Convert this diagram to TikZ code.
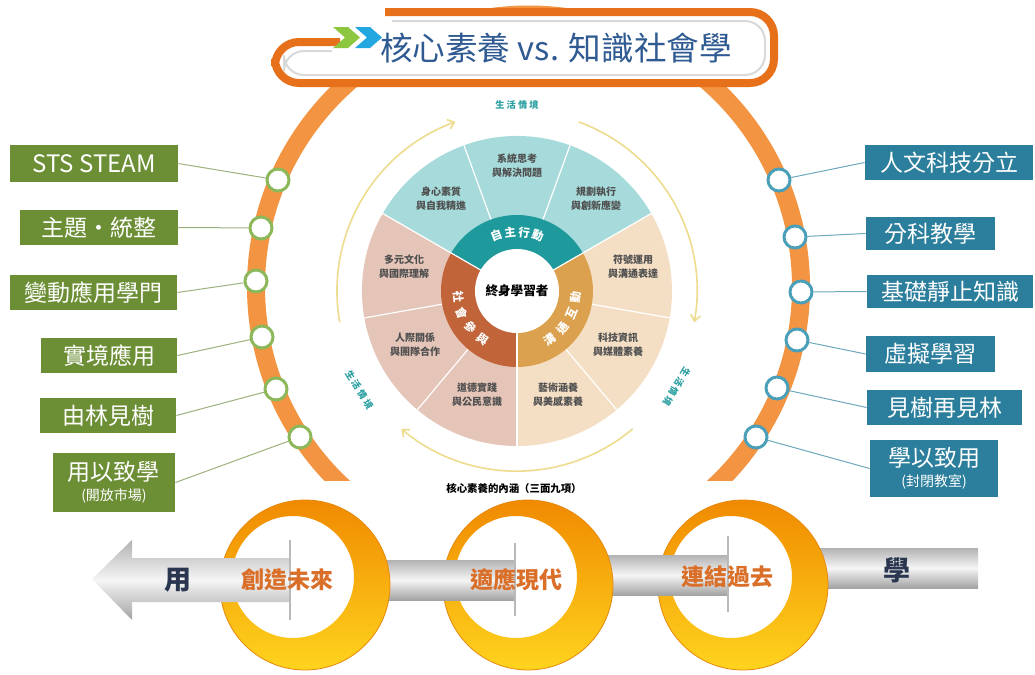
\documentclass[tikz,border=0pt]{standalone}
\usepackage{fontspec}
\setmainfont{Noto Sans CJK TC}
\usetikzlibrary{arrows.meta,calc}
\definecolor{ringorange}{HTML}{F29441}
\definecolor{titleorange}{HTML}{E7711B}
\definecolor{titleblue}{HTML}{2F5A92}
\definecolor{chevgreen}{HTML}{8DC63F}
\definecolor{chevblue}{HTML}{22A7E0}
\definecolor{lgreen}{HTML}{6C8E35}
\definecolor{lcircle}{HTML}{8CB85A}
\definecolor{lline}{HTML}{9DB07E}
\definecolor{rblue}{HTML}{2B7E9C}
\definecolor{rcircle}{HTML}{4C9FB9}
\definecolor{rline}{HTML}{6EA8BE}
\definecolor{tealL}{HTML}{A7DBDB}
\definecolor{tealD}{HTML}{1E9A9C}
\definecolor{pinkL}{HTML}{E6C5B9}
\definecolor{rustc}{HTML}{C1643A}
\definecolor{tanL}{HTML}{F4DFC5}
\definecolor{goldc}{HTML}{DCA14F}
\definecolor{cycyellow}{HTML}{EEDC8E}
\definecolor{ctxteal}{HTML}{2A9FA1}
\definecolor{seggray}{HTML}{4F4F4F}
\definecolor{ringtop}{HTML}{F08A00}
\definecolor{ringbot}{HTML}{FFD41E}
\definecolor{bartxtorange}{HTML}{DA6F2A}
\definecolor{navyc}{HTML}{2A3650}
\newcommand{\ctxtext}{生\kern1.1pt 活\kern1.1pt 情\kern1.1pt 境}
\begin{document}
\begin{tikzpicture}[x=0.5pt,y=0.5pt,
  lbox/.style={fill=lgreen, text=white, inner sep=0pt, font=\fontsize{11.5}{13}\selectfont, minimum height=17.5pt},
  rbox/.style={fill=rblue, text=white, inner sep=0pt, font=\fontsize{11.5}{13}\selectfont, minimum height=17.5pt},
  lcirc/.style={circle, draw=lcircle, line width=1.5pt, fill=white, minimum size=11pt, inner sep=0pt},
  rcirc/.style={circle, draw=rcircle, line width=1.5pt, fill=white, minimum size=11pt, inner sep=0pt},
  lconn/.style={draw=lline, line width=0.5pt},
  rconn/.style={draw=rline, line width=0.5pt},
  seglabel/.style={text=seggray, font=\bfseries\fontsize{5}{7}\selectfont, align=center, inner sep=0pt},
  ringtxt/.style={text=white, font=\bfseries\fontsize{5.8}{7}\selectfont, inner sep=0pt},
  ctxlabel/.style={text=ctxteal, font=\bfseries\fontsize{4.6}{5}\selectfont, inner sep=0pt},
  cyc/.style={draw=cycyellow, line width=0.8pt, -{Straight Barb[length=3pt,width=5pt]}},
  silverbar/.style={top color=gray!60, bottom color=gray!72, middle color=gray!8},
  goldring/.style={top color=ringtop, bottom color=ringbot, even odd rule},
  bartxt/.style={text=bartxtorange, font=\bfseries\fontsize{11.5}{13}\selectfont, inner sep=0pt},
  navytxt/.style={text=navyc, font=\bfseries\fontsize{13.5}{15}\selectfont, inner sep=0pt},
  shadowline/.style={draw=gray!55, line width=0.6pt}
]
\useasboundingbox (0,0) rectangle (1035,-675);
\fill[white] (0,0) rectangle (1035,-675);

% big orange ring
\begin{scope}
  \clip (0,0) rectangle (1035,-480);
  \draw[ringorange, line width=9pt] ($(528.5,-287)+(230:272.5)$) arc[start angle=230, end angle=-50, radius=272.5];
\end{scope}

% title frame
\fill[white, rounded corners=12pt] (270,-12) rectangle (778,-86);
\draw[gray!30, line width=1pt, rounded corners=10pt] (392,-21) -- (765,-21) -- (765,-75) -- (284,-75) -- (284,-51) -- (332,-51);
\draw[titleorange, line width=4pt, rounded corners=12pt] (385,-12) -- (774,-12) -- (774,-83) -- (275,-83) -- (275,-42) -- (340,-42);
\fill[chevgreen] (333,-27) -- (348,-27) -- (360,-37.5) -- (348,-48) -- (333,-48) -- (345,-37.5) -- cycle;
\fill[chevblue] (355,-27) -- (370,-27) -- (382,-37.5) -- (370,-48) -- (355,-48) -- (367,-37.5) -- cycle;
\node[font=\fontsize{16.3}{19}\selectfont, text=titleblue, inner sep=0pt] (title) at (556,-48) {核心素養 vs. 知識社會學};

% circles on ring
\node[lcirc] (c1) at (278,-180) {};
\node[lcirc] (c2) at (261,-228) {};
\node[lcirc] (c3) at (256,-281) {};
\node[lcirc] (c4) at (262,-337) {};
\node[lcirc] (c5) at (276,-389) {};
\node[lcirc] (c6) at (300,-437) {};
\node[rcirc] (d1) at (779,-180) {};
\node[rcirc] (d2) at (795,-237) {};
\node[rcirc] (d3) at (801,-292) {};
\node[rcirc] (d4) at (797,-340) {};
\node[rcirc] (d5) at (777,-388) {};
\node[rcirc] (d6) at (756,-437) {};

% left boxes
\node[lbox, minimum width=84pt, minimum height=18.5pt, font=\fontsize{12}{14}\selectfont] (l1) at (94,-163.5) {STS STEAM};
\node[lbox, minimum width=79pt] (l2) at (99,-227.5) {主題・統整};
\node[lbox, minimum width=83.5pt] (l3) at (93.5,-292.5) {變動應用學門};
\node[lbox, minimum width=68pt] (l4) at (109,-355.5) {實境應用};
\node[lbox, minimum width=68pt] (l5) at (108,-415.5) {由林見樹};
\node[lbox, minimum width=61pt, minimum height=29.5pt, align=center] (l6) at (114,-482.5) {用以致學\\[-3pt]{\fontsize{7}{8}\selectfont (開放市場)}};

% right boxes
\node[rbox, minimum width=84pt] (r1) at (949,-162.5) {人文科技分立};
\node[rbox, minimum width=64.5pt, minimum height=16.5pt] (r2) at (930.5,-233.5) {分科教學};
\node[rbox, minimum width=83pt, minimum height=16.5pt] (r3) at (950,-291.5) {基礎靜止知識};
\node[rbox, minimum width=64.5pt, minimum height=18pt] (r4) at (930.5,-354) {虛擬學習};
\node[rbox, minimum width=77.5pt] (r5) at (944.5,-407.5) {見樹再見林};
\node[rbox, minimum width=64pt, minimum height=28.5pt, align=center] (r6) at (934,-468.5) {學以致用\\[-3pt]{\fontsize{7}{8}\selectfont (封閉教室)}};

% connectors
\foreach \i in {1,...,6} {
  \draw[lconn] (l\i.east) -- (c\i);
  \draw[rconn] (r\i.west) -- (d\i);
}

% central wheel
\begin{scope}[shift={(517,-291)}]
  \fill[tealL] (0,0) -- (30:155) arc[start angle=30,end angle=150,radius=155] -- cycle;
  \fill[pinkL] (0,0) -- (150:155) arc[start angle=150,end angle=270,radius=155] -- cycle;
  \fill[tanL] (0,0) -- (270:155) arc[start angle=270,end angle=390,radius=155] -- cycle;
  \foreach \a in {30,70,110,150,190,230,270,310,350} \draw[white, line width=0.6pt] (0,0) -- (\a:155);
  \fill[tealD] (0,0) -- (30:76) arc[start angle=30,end angle=150,radius=76] -- cycle;
  \fill[rustc] (0,0) -- (150:76) arc[start angle=150,end angle=270,radius=76] -- cycle;
  \fill[goldc] (0,0) -- (270:76) arc[start angle=270,end angle=390,radius=76] -- cycle;
  \foreach \a in {30,150,270} \draw[white, line width=0.6pt] (0,0) -- (\a:76);
  \fill[white] (0,0) circle[radius=42];
  % cycle arrows
  \draw[cyc] (190:180) arc[start angle=190,end angle=110,radius=180];
  \draw[cyc] (70:180) arc[start angle=70,end angle=-10,radius=180];
  \draw[cyc] (-50:180) arc[start angle=-50,end angle=-130,radius=180];
  % ring texts
  \foreach \ch [count=\i] in {自,主,行,動} {
    \pgfmathsetmacro\ang{110.5-(\i-1)*13.7}
    \node[ringtxt, rotate=\ang-90] (ra\i) at (\ang:59) {\ch};
  }
  \foreach \ch [count=\i] in {社,會,參,與} {
    \pgfmathsetmacro\ang{185.25+(\i-1)*16.5}
    \node[ringtxt, rotate=\ang+90] (rb\i) at (\ang:59) {\ch};
  }
  \foreach \ch [count=\i] in {溝,通,互,動} {
    \pgfmathsetmacro\ang{-55.75+(\i-1)*16.5}
    \node[ringtxt, rotate=\ang+90] (rc\i) at (\ang:59) {\ch};
  }
  % context labels
  \node[ctxlabel] (ctxtop) at (90:186) {\ctxtext};
  \node[ctxlabel, rotate=302] (ctxleft) at (212:186) {\ctxtext};
  \node[ctxlabel, rotate=-121] (ctxright) at (-31:186) {\ctxtext};
\end{scope}
\node[font=\bfseries\fontsize{6.3}{7}\selectfont, inner sep=0pt] (core) at (517,-291) {終身學習者};

% segment labels
\node[seglabel] (s1) at (517,-166) {系統思考\\與解決問題};
\node[seglabel] (s2) at (441,-199) {身心素質\\與自我精進};
\node[seglabel] (s3) at (596,-199) {規劃執行\\與創新應變};
\node[seglabel] (s4) at (404,-267) {多元文化\\與國際理解};
\node[seglabel] (s5) at (633,-267) {符號運用\\與溝通表達};
\node[seglabel] (s6) at (415,-345) {人際關係\\與團隊合作};
\node[seglabel] (s7) at (618,-345) {科技資訊\\與媒體素養};
\node[seglabel] (s8) at (477,-395) {道德實踐\\與公民意識};
\node[seglabel] (s9) at (558,-395) {藝術涵養\\與美感素養};
\node[font=\bfseries\fontsize{5.2}{6}\selectfont, inner sep=0pt] (cap) at (514,-489) {核心素養的內涵（三面九項）};

% bottom: bars and rings
\shade[silverbar] (810,-548) rectangle (978,-588);
\shade[goldring] (743,-585) circle[radius=85] (731,-577) circle[radius=61];
\draw[ringtop!80!brown, line width=0.4pt] (743,-585) circle[radius=85];
\shade[silverbar] (590,-555) rectangle (728,-595);
\draw[shadowline] (728,-536) -- (728,-612);
\shade[goldring] (528,-585) circle[radius=85] (516,-577) circle[radius=61];
\draw[ringtop!80!brown, line width=0.4pt] (528,-585) circle[radius=85];
\shade[silverbar] (370,-560) rectangle (515,-600);
\draw[shadowline] (515,-543) -- (515,-616);
\shade[goldring] (305,-585) circle[radius=85] (293,-577) circle[radius=61];
\draw[ringtop!80!brown, line width=0.4pt] (305,-585) circle[radius=85];
\shade[silverbar] (92,-579) -- (132,-540) -- (132,-558) -- (290,-558) -- (290,-602) -- (132,-602) -- (132,-620) -- cycle;
\draw[shadowline] (290,-540) -- (290,-620);

\node[navytxt] (yong) at (178,-580) {用};
\node[bartxt] (w1) at (287,-580) {創造未來};
\node[bartxt] (w2) at (516,-580) {適應現代};
\node[bartxt] (w3) at (727,-577) {連結過去};
\node[navytxt] (xue) at (897,-570) {學};
\end{tikzpicture}
\end{document}
